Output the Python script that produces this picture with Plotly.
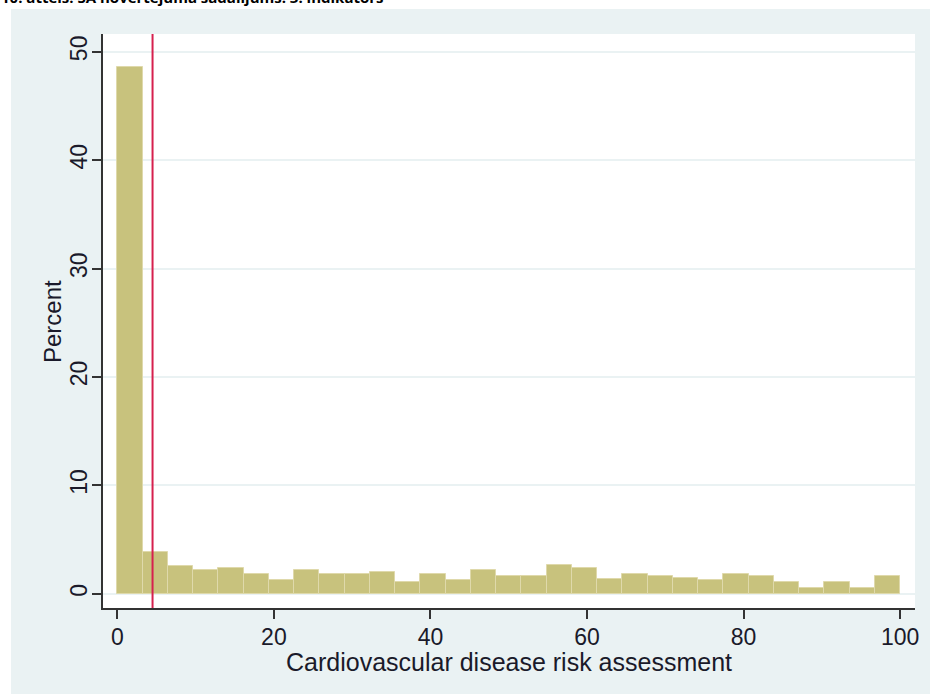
import plotly.graph_objects as go

# ---- data ----
percent = [48.6, 3.85, 2.55, 2.15, 2.35, 1.8, 1.25, 2.15, 1.8, 1.8, 2.0, 1.05,
           1.8, 1.25, 2.15, 1.6, 1.6, 2.7, 2.35, 1.4, 1.8, 1.65, 1.45, 1.25,
           1.8, 1.65, 1.05, 0.5, 1.05, 0.5, 1.65]
bin_start = 0
bin_end = 100
cutoff = 4.5
x_ticks = [0, 20, 40, 60, 80, 100]
y_ticks = [0, 10, 20, 30, 40, 50]
x_title = "Cardiovascular disease risk assessment"
y_title = "Percent"
caption = "10. attēls: SA novērtējuma sadalījums. 3. indikators"

n_bins = len(percent)
bin_width = (bin_end - bin_start) / n_bins
bin_centers = [bin_start + (i + 0.5) * bin_width for i in range(n_bins)]

W, H = 930, 694
ML, MR, MT, MB = 103, 15, 34, 86
pw, ph = W - ML - MR, H - MT - MB


def px_x(p):
    return (p - ML) / pw


def px_y(p):
    return (H - MB - p) / ph


BG = "#eaf2f3"
FONT = "Liberation Sans"
TXT = "#1a1a2a"

fig = go.Figure(
    go.Bar(
        x=bin_centers,
        y=percent,
        width=bin_width,
        marker=dict(color="#c8c27d", line=dict(color="#dfd9ab", width=1)),
        hoverinfo="x+y",
    )
)

fig.update_layout(
    width=W,
    height=H,
    margin=dict(l=ML, r=MR, t=MT, b=MB, pad=0),
    paper_bgcolor=BG,
    plot_bgcolor="white",
    showlegend=False,
    font=dict(family=FONT, color=TXT),
    bargap=0,
    xaxis=dict(
        range=[-1.83, 101.9],
        tickvals=x_ticks,
        ticks="outside",
        ticklen=9,
        tickwidth=2,
        tickcolor="#333333",
        showline=True,
        linecolor="#333333",
        linewidth=2,
        showgrid=False,
        zeroline=False,
        tickfont=dict(size=23),
        ticklabelstandoff=-2,
    ),
    yaxis=dict(
        range=[-1.31, 51.64],
        tickvals=y_ticks,
        tickangle=-90,
        ticks="outside",
        ticklen=9,
        tickwidth=2,
        tickcolor="#333333",
        showline=True,
        linecolor="#333333",
        linewidth=2,
        showgrid=True,
        gridcolor=BG,
        gridwidth=1.5,
        zeroline=False,
        tickfont=dict(size=23),
        ticklabelstandoff=-4,
    ),
    shapes=[
        dict(type="line", xref="x", yref="paper", x0=cutoff, x1=cutoff, y0=0, y1=1,
             line=dict(color="#d6204e", width=2)),
        # white page strips around the grey graph region
        dict(type="rect", xref="paper", yref="paper", x0=px_x(0), x1=px_x(W),
             y0=px_y(9), y1=px_y(-5), fillcolor="white", line=dict(width=0), layer="below"),
        dict(type="rect", xref="paper", yref="paper", x0=px_x(-5), x1=px_x(11),
             y0=px_y(H + 5), y1=px_y(-5), fillcolor="white", line=dict(width=0), layer="below"),
    ],
    annotations=[
        dict(text="<b>" + caption + "</b>", xref="paper", yref="paper",
             x=px_x(-1), y=px_y(9), xanchor="left", yanchor="bottom",
             showarrow=False, font=dict(family="Open Sans", size=15, color="black")),
        dict(text=x_title, xref="paper", yref="paper", x=0.5, y=px_y(662),
             xanchor="center", yanchor="middle", showarrow=False,
             font=dict(size=25, color=TXT)),
        dict(text=y_title, xref="paper", yref="paper", x=px_x(52), y=0.5,
             xanchor="center", yanchor="middle", textangle=-90, showarrow=False,
             font=dict(size=24, color=TXT)),
    ],
)

fig.write_html("out.html")
